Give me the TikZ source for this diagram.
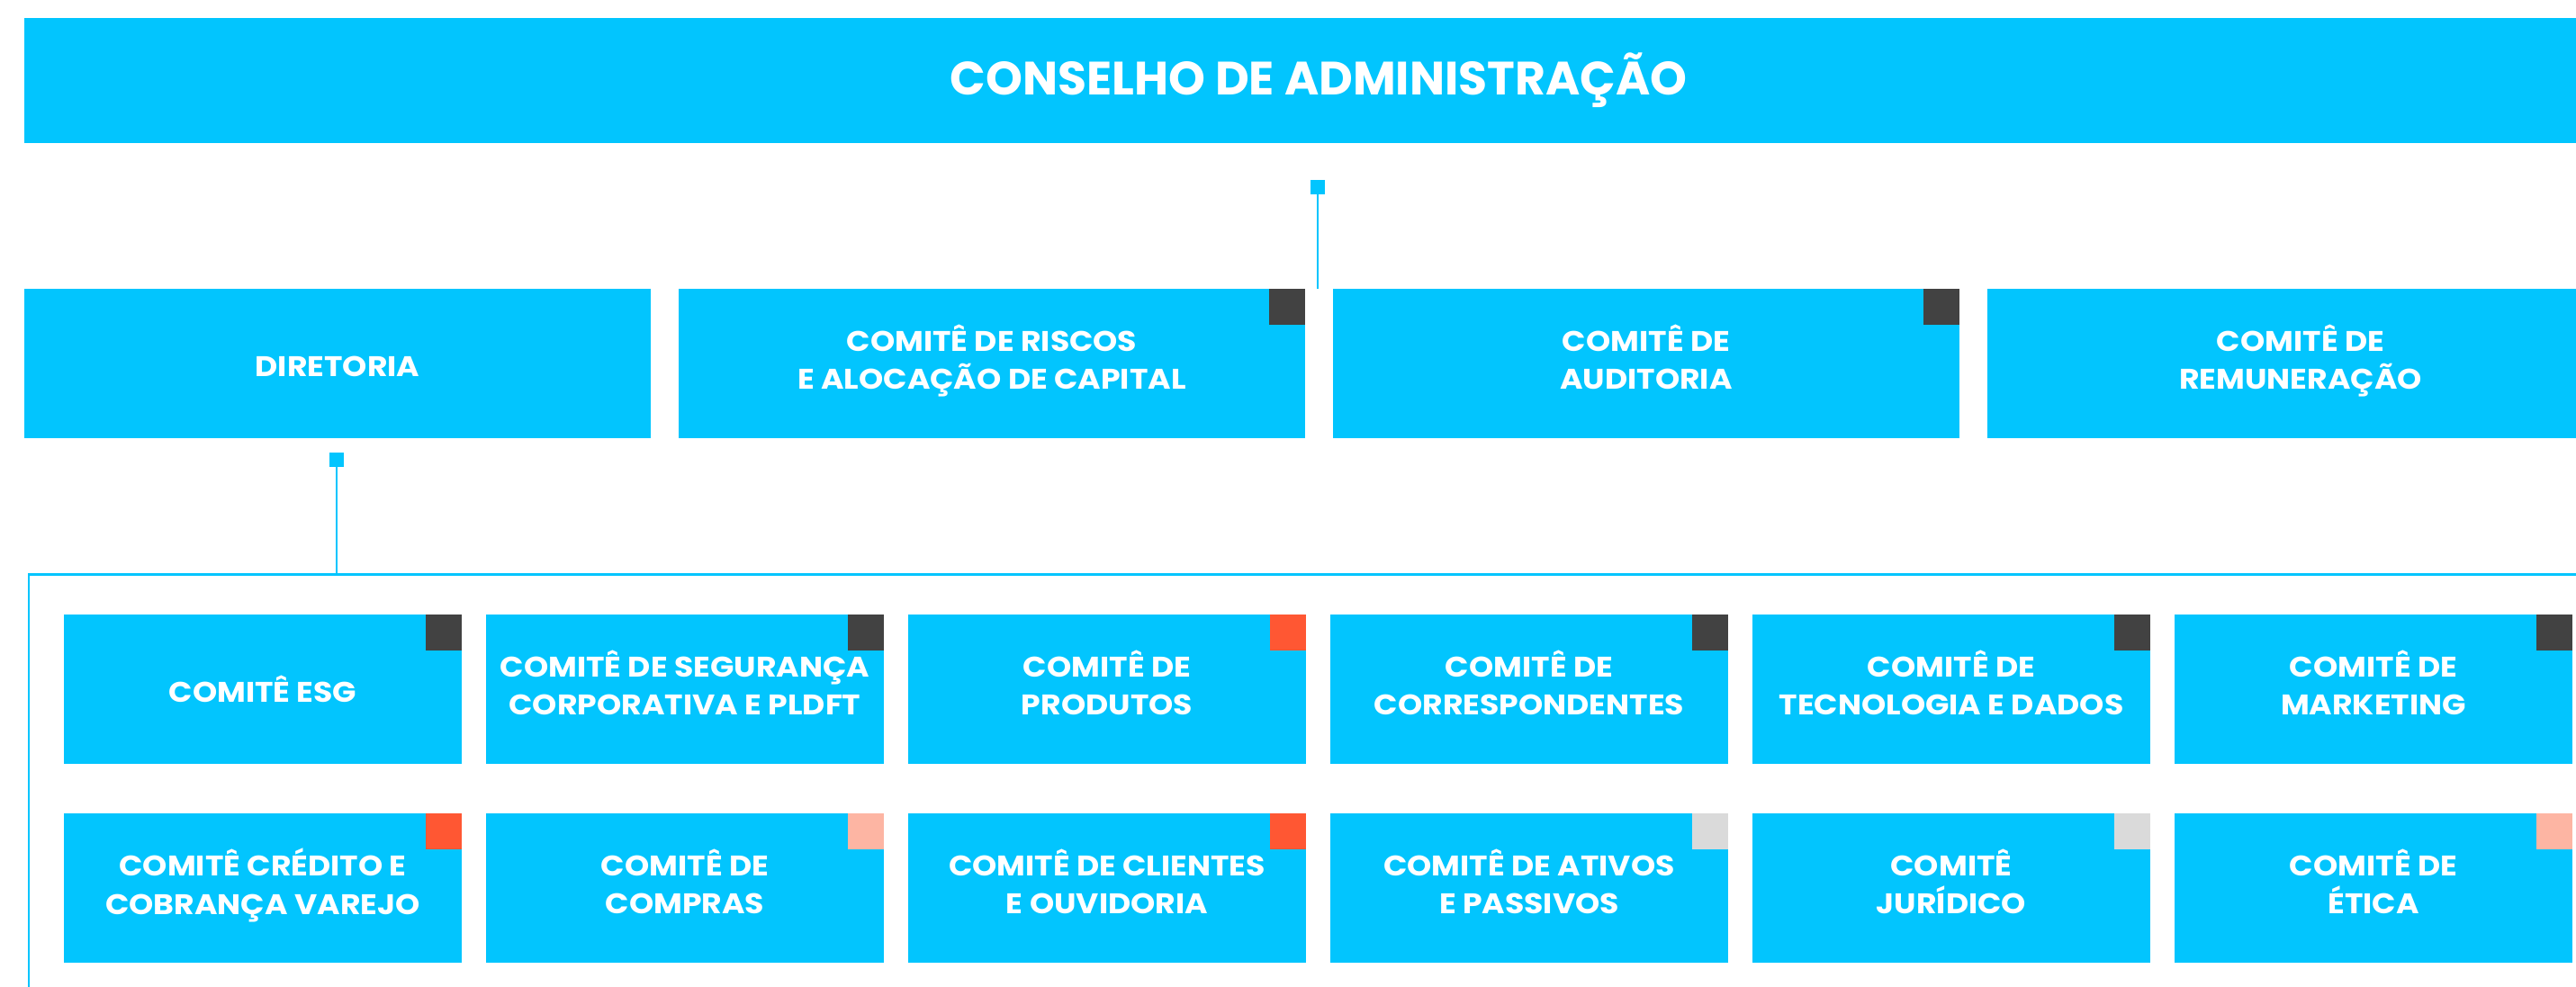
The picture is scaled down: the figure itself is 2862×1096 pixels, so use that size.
\documentclass[tikz,border=0pt]{standalone}
\usepackage{fontspec}
\setmainfont{Poppins}
\newfontfamily\boxfont{Poppins}[FakeStretch=1.1]
\definecolor{cyanbox}{HTML}{02C5FE}
\definecolor{darksq}{HTML}{424242}
\definecolor{orangesq}{HTML}{FF5733}
\definecolor{salmonsq}{HTML}{FDB5A3}
\definecolor{graysq}{HTML}{DADADA}
\newcommand{\topstrut}{\rule{0pt}{32pt}}
\newcommand{\botstrut}{\rule[-15pt]{0pt}{15pt}}
\newcommand{\onestrut}{\rule[-4pt]{0pt}{36pt}}
\newcommand{\titlestrut}{\rule[-10pt]{0pt}{60pt}}
\tikzset{
  unitbox/.style={fill=cyanbox, draw=none, inner sep=0pt, text=white, align=center,
    font=\boxfont\bfseries\fontsize{31.5}{42.5}\selectfont},
  twolines/.style={execute at begin node=\topstrut, execute at end node=\botstrut},
  oneline/.style={execute at begin node=\onestrut},
  toprow/.style={unitbox, minimum width=696pt, minimum height=166pt},
  comite/.style={unitbox, minimum width=442pt, minimum height=166pt},
  marker/.style={fill=cyanbox, draw=none, inner sep=0pt, minimum width=16pt, minimum height=16pt},
  link/.style={draw=cyanbox, line width=2.6pt},
  frameline/.style={draw=cyanbox, line width=2.6pt},
}
\newcommand{\cornersq}[2]{\fill[#2] ([xshift=-40pt,yshift=-40pt]#1.north east) rectangle (#1.north east);}
\begin{document}
\begin{tikzpicture}[x=1pt,y=-1pt]
\useasboundingbox (0,0) rectangle (2862,1096);
% board
\node[unitbox, minimum width=2876pt, minimum height=139pt, font=\bfseries\fontsize{52}{60}\selectfont] (conselho) at (1465,89.5) {\rule[-10pt]{0pt}{50pt}CONSELHO DE ADMINISTRAÇÃO};
% first row
\node[toprow, oneline] (diretoria) at (375,404) {DIRETORIA};
\node[toprow, twolines] (riscos) at (1102,404) {COMITÊ DE RISCOS\\E ALOCAÇÃO DE CAPITAL};
\node[toprow, twolines] (auditoria) at (1829,404) {COMITÊ DE\\AUDITORIA};
\node[toprow, twolines] (remuneracao) at (2556,404) {COMITÊ DE\\REMUNERAÇÃO};
\cornersq{riscos}{darksq}
\cornersq{auditoria}{darksq}
\cornersq{remuneracao}{darksq}
% connector from board
\node[marker] (m1) at (1464,208) {};
\coordinate (m1end) at (1464,321);
\draw[link] (m1.south) -- (m1end);
% connector from diretoria
\node[marker] (m2) at (374,511) {};
\coordinate (frametop) at (374,638.5);
\draw[link] (m2.south) -- (frametop);
% frame
\coordinate (fstart) at (32,1110);
\coordinate (fcorner) at (32,638.5);
\coordinate (fend) at (2880,638.5);
\draw[frameline] (fstart) -- (fcorner) -- (fend);
% second row
\node[comite, oneline] (esg) at (292,766) {COMITÊ ESG};
\node[comite, twolines] (seguranca) at (761,766) {COMITÊ DE SEGURANÇA\\CORPORATIVA E PLDFT};
\node[comite, twolines] (produtos) at (1230,766) {COMITÊ DE\\PRODUTOS};
\node[comite, twolines] (correspondentes) at (1699,766) {COMITÊ DE\\CORRESPONDENTES};
\node[comite, twolines] (tecnologia) at (2168,766) {COMITÊ DE\\TECNOLOGIA E DADOS};
\node[comite, twolines] (marketing) at (2637,766) {COMITÊ DE\\MARKETING};
\cornersq{esg}{darksq}
\cornersq{seguranca}{darksq}
\cornersq{produtos}{orangesq}
\cornersq{correspondentes}{darksq}
\cornersq{tecnologia}{darksq}
\cornersq{marketing}{darksq}
% third row
\node[comite, twolines] (credito) at (292,987) {COMITÊ CRÉDITO E\\COBRANÇA VAREJO};
\node[comite, twolines] (compras) at (761,987) {COMITÊ DE\\COMPRAS};
\node[comite, twolines] (clientes) at (1230,987) {COMITÊ DE CLIENTES\\E OUVIDORIA};
\node[comite, twolines] (ativos) at (1699,987) {COMITÊ DE ATIVOS\\E PASSIVOS};
\node[comite, twolines] (juridico) at (2168,987) {COMITÊ\\JURÍDICO};
\node[comite, twolines] (etica) at (2637,987) {COMITÊ DE\\ÉTICA};
\cornersq{credito}{orangesq}
\cornersq{compras}{salmonsq}
\cornersq{clientes}{orangesq}
\cornersq{ativos}{graysq}
\cornersq{juridico}{graysq}
\cornersq{etica}{salmonsq}
\end{tikzpicture}
\end{document}
